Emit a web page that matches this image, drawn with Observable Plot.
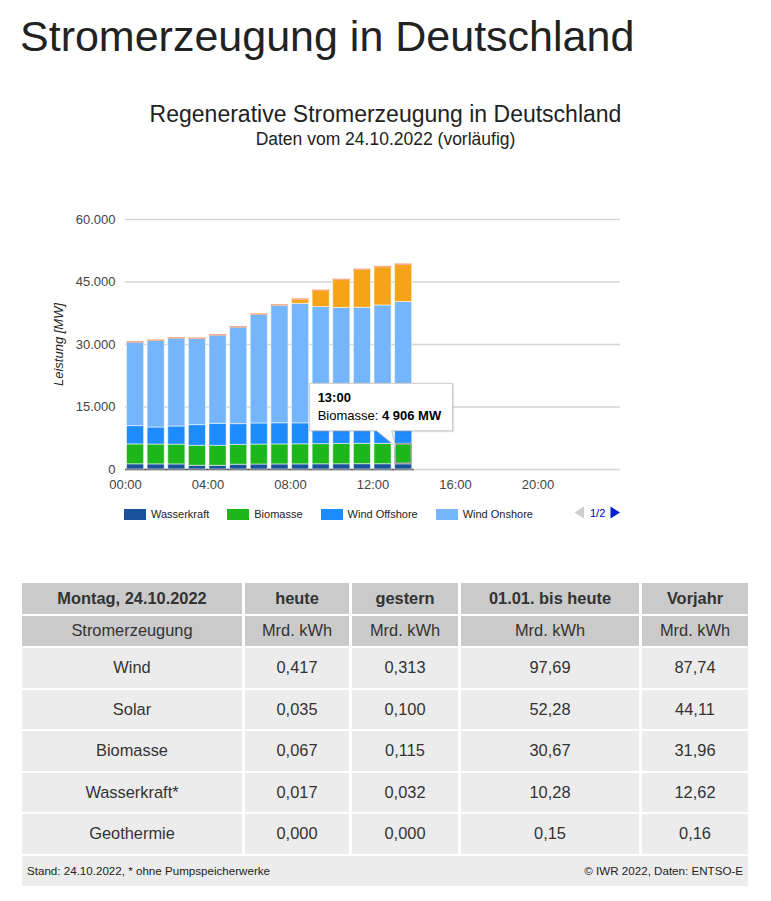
<!DOCTYPE html>
<html><head><meta charset="utf-8">
<script src="https://cdn.jsdelivr.net/npm/d3@7"></script>
<script src="https://cdn.jsdelivr.net/npm/@observablehq/plot@0.6"></script>
<style>
html,body{margin:0;padding:0;background:#fff}
body{width:771px;height:901px;position:relative;overflow:hidden;font-family:Arial,"Liberation Sans",sans-serif;color:#222}
.abs{position:absolute;white-space:nowrap;line-height:1}
#h1{left:20px;font-size:43px;color:#222}
#ctitle,#csub{left:0;width:771px;text-align:center;color:#222}
#ctitle{font-size:23px}
#csub{font-size:17.5px}
#chart{position:absolute;left:0;top:200px}
#ylabel{font-size:13px;font-style:italic;color:#222;transform-origin:0 0}
#legend{position:absolute;top:508px;left:124px;display:flex;align-items:center;font-size:11px;color:#222;height:12px}
.li{display:flex;align-items:center;margin-right:18px}
.sw{width:22px;height:11px;margin-right:5px}
#pager{position:absolute;top:506px;left:574px;display:flex;align-items:center;font-size:11px;color:#0000cc}
table{position:absolute;left:19px;top:581px;border-collapse:separate;border-spacing:3px 2px;table-layout:fixed;font-size:16.4px;color:#333}
td{padding:0;text-align:center;vertical-align:middle;overflow:hidden;white-space:nowrap}
tr.h td{background:#cacaca;height:30.5px}
tr.h1 td{font-weight:bold}
tr.d td{background:#ececec;height:39.5px}
tr.f td{background:#ececec;height:30px;font-size:11.6px;color:#222}
.fwrap{display:flex;justify-content:space-between;padding:0 5px 0 5px}
</style>
</head><body>
<div id="h1" class="abs">Stromerzeugung in Deutschland</div>
<div id="ctitle" class="abs">Regenerative Stromerzeugung in Deutschland</div>
<div id="csub" class="abs">Daten vom 24.10.2022 (vorläufig)</div>
<div id="chart"></div>
<div id="ylabel" class="abs">Leistung [MW]</div>
<div id="legend"></div>
<div id="pager"></div>
<div id="tablebox"></div>
<script>
// ---------- data ----------
const hours = ["00:00","01:00","02:00","03:00","04:00","05:00","06:00","07:00","08:00","09:00","10:00","11:00",
               "12:00","13:00","14:00","15:00","16:00","17:00","18:00","19:00","20:00","21:00","22:00","23:00"];
const xTickLabels = ["00:00","04:00","08:00","12:00","16:00","20:00"];
const yTicks = [0, 15000, 30000, 45000, 60000];

const seriesNames  = ["Wasserkraft","Biomasse","Wind Offshore","Wind Onshore","Solar","Geothermie"];
const seriesColors = ["#19539a","#1db71b","#1e8bff","#74b5fb","#f4a416","#f6ae86"];
const legendPage1  = ["Wasserkraft","Biomasse","Wind Offshore","Wind Onshore"];

// MW per hour (hours after 13:00 are 0)
const wasserkraft  = [1250,1230,1220,900,880,1150,1200,1220,1230,1250,1260,1280,1270,1260,0,0,0,0,0,0,0,0,0,0];
const biomasse     = [4780,4760,4750,4790,4800,4770,4790,4800,4820,4840,4870,4880,4890,4906,0,0,0,0,0,0,0,0,0,0];
const windOffshore = [4380,4090,4360,4960,5290,4970,5060,5080,5040,5000,4950,4900,5000,5150,0,0,0,0,0,0,0,0,0,0];
const windOnshore  = [20110,20840,21150,20750,21230,23240,26140,28260,28670,27900,27710,27760,28210,28880,0,0,0,0,0,0,0,0,0,0];
const solar        = [0,0,0,0,0,0,0,30,1040,3900,6700,9100,9200,8950,0,0,0,0,0,0,0,0,0,0];
const geothermie   = [25,25,24,25,25,24,25,25,24,25,25,24,25,25,0,0,0,0,0,0,0,0,0,0];

const tooltipHour = "13:00";
const tooltipSeries = "Biomasse";

const tableHead  = ["Montag, 24.10.2022","heute","gestern","01.01. bis heute","Vorjahr"];
const tableUnits = ["Stromerzeugung","Mrd. kWh","Mrd. kWh","Mrd. kWh","Mrd. kWh"];
const tableRows  = ["Wind","Solar","Biomasse","Wasserkraft*","Geothermie"];
const colHeute   = ["0,417","0,035","0,067","0,017","0,000"];
const colGestern = ["0,313","0,100","0,115","0,032","0,000"];
const colBisHeute= ["97,69","52,28","30,67","10,28","0,15"];
const colVorjahr = ["87,74","44,11","31,96","12,62","0,16"];
const footLeft   = "Stand: 24.10.2022, * ohne Pumpspeicherwerke";
const footRight  = "© IWR 2022, Daten: ENTSO-E";

// ---------- text placement (baseline based) ----------
function placeBaseline(id, baseline, size){ document.getElementById(id).style.top = (baseline - 0.8465*size) + "px"; }
placeBaseline("h1", 51, 43);
placeBaseline("ctitle", 122, 23);
placeBaseline("csub", 146, 17.5);

// ---------- chart ----------
const seriesArrays = [wasserkraft, biomasse, windOffshore, windOnshore, solar, geothermie];
const long = [];
hours.forEach((h, i) => seriesArrays.forEach((arr, s) => {
  if (arr[i] > 0) long.push({i, i2: i + 1, hour: h, series: seriesNames[s], value: arr[i]});
}));
const totals = hours.map((h, i) => d3.sum(seriesArrays, a => a[i]));
const zeroIdx = hours.map((h, i) => i).filter(i => totals[i] === 0);
const filledCount = hours.length - zeroIdx.length;

const deFmt = d3.formatLocale({decimal: ",", thousands: ".", grouping: [3], currency: ["", "€"]}).format(",");
const xTickIdx = xTickLabels.map(l => hours.indexOf(l));
const inL = 1.5, inR = 2;

const chart = Plot.plot({
  width: 771, height: 300,
  marginLeft: 125, marginRight: 151, marginTop: 19, marginBottom: 31,
  style: {fontFamily: "Arial, 'Liberation Sans', sans-serif", fontSize: "13px", color: "#444", background: "transparent", overflow: "visible"},
  x: {domain: [0, hours.length], ticks: xTickIdx, tickFormat: i => hours[i], tickSize: 0, tickPadding: 10, label: null},
  y: {domain: [0, 60000], ticks: yTicks, tickFormat: deFmt, tickSize: 0, tickPadding: 10, label: null},
  color: {domain: seriesNames, range: seriesColors},
  opacity: {domain: [0, 1], range: [0, 1]},
  marks: [
    Plot.ruleY(yTicks, {stroke: "#d4d4d4", strokeWidth: 1.5}),
    Plot.ruleY([0], {x1: 0, x2: filledCount, stroke: "#555", strokeWidth: 1.5}),
    Plot.rectY(zeroIdx, {x1: d => d, x2: d => d + 1, y1: 0, y2: 0, stroke: "#77704f", strokeWidth: 1.5, insetLeft: inL, insetRight: inR}),
    Plot.rectY(long, Plot.stackY({x1: "i", x2: "i2", y: "value", fill: "series", z: "series", order: seriesNames,
      stroke: "white", strokeOpacity: 0.55, strokeWidth: 1, insetLeft: inL, insetRight: inR})),
    Plot.rectY(long, Plot.stackY({x1: "i", x2: "i2", y: "value", z: "series", order: seriesNames,
      fill: "none", stroke: "series", strokeWidth: 1.4,
      strokeOpacity: d => d.series === "Geothermie" ? 1 : 0, insetLeft: inL + 0.5, insetRight: inR + 0.5}))
  ]
});
document.getElementById("chart").appendChild(chart);

// tooltip anchored through the chart's own scales
(function(){
  const sx = chart.scale("x"), sy = chart.scale("y");
  const ti = hours.indexOf(tooltipHour);
  const si = seriesNames.indexOf(tooltipSeries);
  let below = 0; for (let k = 0; k < si; k++) below += seriesArrays[k][ti];
  const val = seriesArrays[si][ti];
  const x0 = sx.apply(ti) + inL, x1 = sx.apply(ti + 1) - inR;
  const yTop = sy.apply(below + val), yBot = sy.apply(below);
  const svg = d3.select(chart);
  svg.append("rect").attr("x", x0 + 0.5).attr("y", yTop + 0.5).attr("width", x1 - x0 - 1).attr("height", yBot - yTop - 1)
     .attr("fill", "none").attr("stroke", "#a8a8a8").attr("stroke-width", 1.6);
  const g = svg.append("g").attr("text-anchor", "start").attr("font-family", "Arial, 'Liberation Sans', sans-serif");
  const L = x0 - 85, R = x0 + 58, T = yTop - 60, B = yTop - 12.5;
  const shape = `M${L},${T}H${R}V${B}H${x0 - 3}L${x0 + 1},${yTop + 3}L${x0 - 18},${B}H${L}Z`;
  g.append("path").attr("d", shape).attr("transform", "translate(1.5,1.5)").attr("fill", "#000").attr("fill-opacity", 0.1);
  g.append("path").attr("d", shape).attr("fill", "#fff").attr("stroke", "#c8c8c8").attr("stroke-width", 1);
  g.append("text").attr("x", L + 8).attr("y", T + 19).attr("font-size", 13).attr("font-weight", "bold").attr("fill", "#000").text(tooltipHour);
  const t2 = g.append("text").attr("x", L + 8).attr("y", T + 37).attr("font-size", 13).attr("fill", "#000");
  t2.append("tspan").text(tooltipSeries + ": ");
  t2.append("tspan").attr("font-weight", "bold").text(d3.formatLocale({decimal: ",", thousands: " ", grouping: [3], currency: ["", ""]}).format(",")(val) + " MW");
})();

// y axis label
(function(){
  const el = document.getElementById("ylabel");
  const w = el.getBoundingClientRect().width;
  el.style.left = (52) + "px";
  el.style.top = (344 + w / 2) + "px";
  el.style.transform = "rotate(-90deg)";
})();

// legend
(function(){
  const lg = document.getElementById("legend");
  legendPage1.forEach(name => {
    const it = document.createElement("div"); it.className = "li";
    const sw = document.createElement("div"); sw.className = "sw"; sw.style.background = seriesColors[seriesNames.indexOf(name)];
    const tx = document.createElement("span"); tx.textContent = name;
    it.appendChild(sw); it.appendChild(tx); lg.appendChild(it);
  });
  document.getElementById("pager").innerHTML =
    '<svg width="11" height="13" style="margin-right:5px"><path d="M10,0.5V12.5L0.5,6.5Z" fill="#cccccc"/></svg>' +
    '<span>1/2</span>' +
    '<svg width="11" height="13" style="margin-left:5px"><path d="M0.5,0.5V12.5L10,6.5Z" fill="#0a1ed2"/></svg>';
})();

// table
(function(){
  let html = '<table><colgroup><col style="width:220px"><col style="width:104px"><col style="width:106px"><col style="width:178px"><col style="width:106px"></colgroup>';
  html += '<tr class="h h1">' + tableHead.map(t => `<td>${t}</td>`).join("") + '</tr>';
  html += '<tr class="h">' + tableUnits.map(t => `<td>${t}</td>`).join("") + '</tr>';
  tableRows.forEach((r, k) => {
    html += '<tr class="d">' + [r, colHeute[k], colGestern[k], colBisHeute[k], colVorjahr[k]].map(t => `<td>${t}</td>`).join("") + '</tr>';
  });
  html += `<tr class="f"><td colspan="5"><div class="fwrap"><span>${footLeft}</span><span>${footRight}</span></div></td></tr>`;
  html += '</table>';
  document.getElementById("tablebox").innerHTML = html;
})();
</script>
</body></html>
